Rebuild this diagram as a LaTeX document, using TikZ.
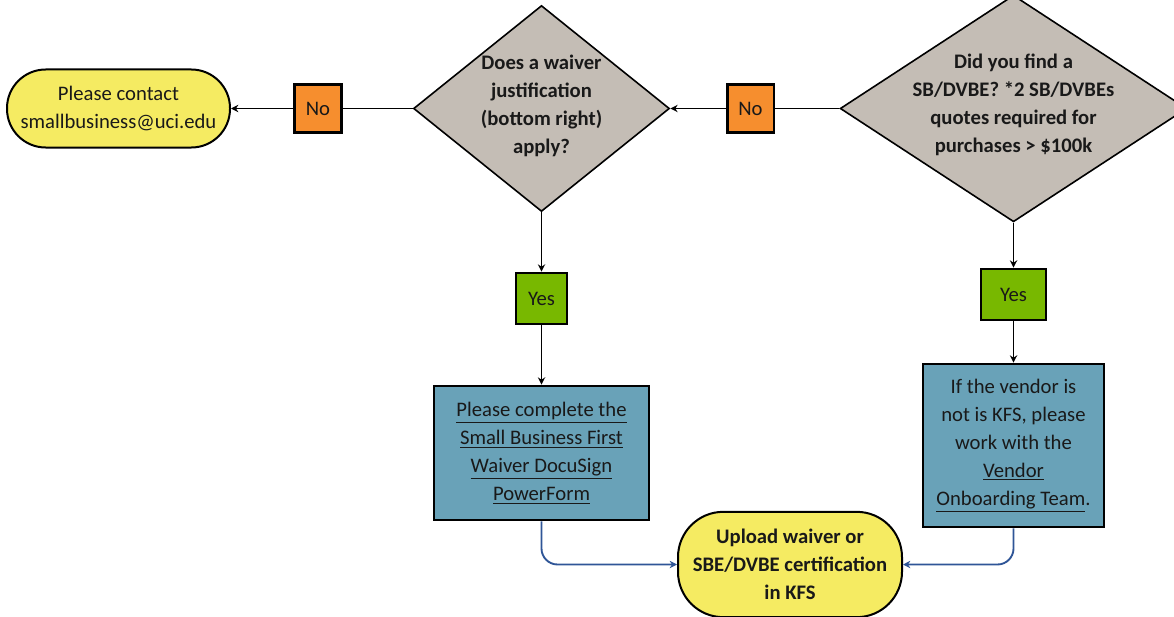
\documentclass[tikz,border=0pt]{standalone}
\usepackage{fontspec}
\setmainfont{Carlito}
\usetikzlibrary{shapes.geometric,arrows.meta}
\definecolor{pillyellow}{HTML}{F5EB62}
\definecolor{noorange}{HTML}{F68E2E}
\definecolor{yesgreen}{HTML}{78B800}
\definecolor{diagray}{HTML}{C4BDB5}
\definecolor{boxblue}{HTML}{69A2B8}
\definecolor{linkblue}{HTML}{2F5597}
\newcommand{\ulined}[1]{\underline{#1}}
\begin{document}
\begin{tikzpicture}[x=0.75pt,y=-0.75pt,
  every node/.style={font=\fontsize{15.5}{21}\selectfont, align=center, text=black!90},
  pill/.style={draw, line width=1.5pt, fill=pillyellow, rectangle, inner sep=0pt},
  nobox/.style={draw, line width=2pt, fill=noorange, rectangle, inner sep=0pt, minimum width=35pt, minimum height=35.5pt},
  yesbox/.style={draw, line width=2pt, fill=yesgreen, rectangle, inner sep=0pt, minimum height=38.25pt},
  decision/.style={draw, line width=1.2pt, fill=diagray, diamond, inner sep=0pt},
  action/.style={draw, line width=2pt, fill=boxblue, rectangle, inner sep=0pt},
  conn/.style={draw, line width=1.4pt},
  arr/.style={-{Stealth[length=5.5pt,width=5.5pt]}},
  bconn/.style={draw=linkblue, line width=1.4pt, rounded corners=12pt, -{Stealth[length=5.5pt,width=5.5pt]}}
]
\clip (0,0) rectangle (1174,617);
\fill[white] (0,0) rectangle (1174,617);

% top row
\node[pill, rounded corners=29pt, minimum width=167.25pt, minimum height=58.5pt] (contact) at (118.5,108.5)
  {Please contact\\smallbusiness@uci.edu};
\node[nobox] (no1) at (318,108.5) {No};
\node[decision, minimum width=192pt, minimum height=154.5pt] (d1) at (541.5,108.5) {};
\node[font=\fontsize{15.5}{21}\selectfont\bfseries] (d1text) at (541.5,106) {Does a waiver\\justification\\(bottom right)\\apply?};
\node[nobox] (no2) at (750.5,108.5) {No};
\node[decision, minimum width=260pt, minimum height=170pt] (d2) at (1013.5,108.5) {};
\node[font=\fontsize{15.5}{21}\selectfont\bfseries] (d2text) at (1013.5,105) {Did you find a\\SB/DVBE? *2 SB/DVBEs\\quotes required for\\purchases > \$100k};

% yes boxes
\node[yesbox, minimum width=38.25pt] (yes1) at (541.5,298.5) {Yes};
\node[yesbox, minimum width=48.75pt] (yes2) at (1013.5,294.5) {Yes};

% action boxes
\node[action, minimum width=161.25pt, minimum height=100.5pt] (blue1) at (541.5,453)
  {\ulined{Please complete the}\\\ulined{Small Business First}\\\ulined{Waiver DocuSign}\\\ulined{PowerForm}};
\node[action, minimum width=135.75pt, minimum height=122.25pt] (blue2) at (1013.5,445.5)
  {If the vendor is\\not is KFS, please\\work with the\\\ulined{Vendor}\\\ulined{Onboarding Team}.};

% final pill
\node[pill, rounded corners=34pt, minimum width=168pt, minimum height=79pt, font=\fontsize{15.5}{21}\selectfont\bfseries] (upload) at (790,564.5)
  {Upload waiver or\\SBE/DVBE certification\\in KFS};

% connectors
\draw[conn] (d2.west) -- (no2.east);
\draw[conn, arr] (no2.west) -- (d1.east);
\draw[conn] (d1.west) -- (no1.east);
\draw[conn, arr] (no1.west) -- (contact.east);
\draw[conn, arr] (d1.south) -- (yes1.north);
\draw[conn, arr] (yes1.south) -- (blue1.north);
\draw[conn, arr] (d2.south) -- (yes2.north);
\draw[conn, arr] (yes2.south) -- (blue2.north);
\draw[bconn] (blue1.south) |- (upload.west);
\draw[bconn] (blue2.south) |- (upload.east);
\end{tikzpicture}
\end{document}
